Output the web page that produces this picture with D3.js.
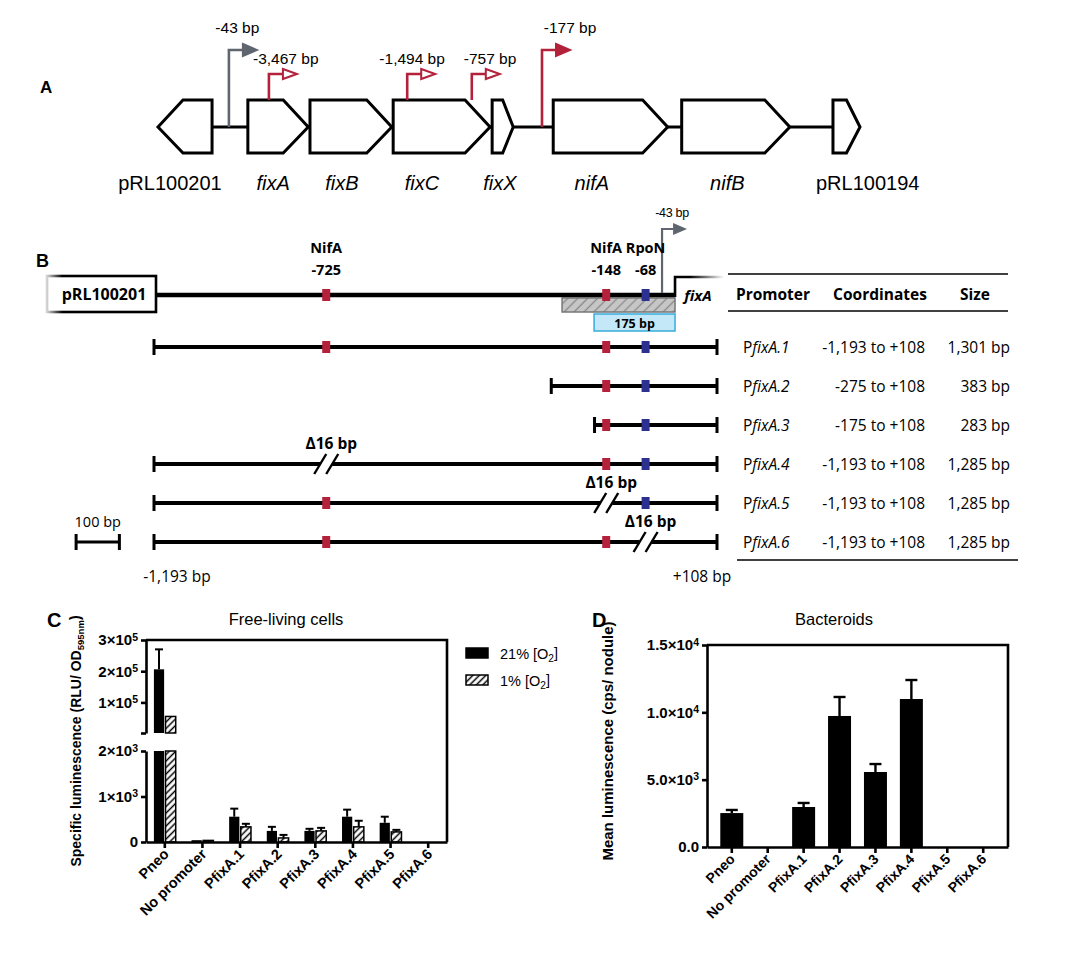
<!DOCTYPE html>
<html>
<head>
<meta charset="utf-8">
<script src="https://cdn.jsdelivr.net/npm/d3@7"></script>
<style>
  body { margin: 0; background: #fff; }
  svg { display: block; }
</style>
</head>
<body>
<div id="chart"></div>
<script>
// ---------- panel A : operon map (map units 0..100)
const geneNames = ['pRL100201', 'fixA', 'fixB', 'fixC', 'fixX', 'nifA', 'nifB', 'pRL100194'];
const geneStart = [0, 12.8, 21.65, 33.5, 47.6, 56.3, 74.6, 96.15];
const geneEnd = [7.7, 21.4, 33.3, 47.3, 50.6, 72.6, 90.0, 100];
const geneStrand = [-1, 1, 1, 1, 1, 1, 1, 1];
const geneItalic = [false, true, true, true, true, true, true, false];
const geneLabelPos = [1.7, 16.4, 26.2, 37.6, 48.7, 61.8, 81.1, 101.1];

const promoterLabels = ['-43 bp', '-3,467 bp', '-1,494 bp', '-757 bp', '-177 bp'];
const promoterPos = [10.1, 15.8, 35.5, 44.7, 54.7];
const promoterLabelPos = [11.3, 18.2, 36.2, 47.3, 58.7];
const promoterTall = [true, false, false, false, true];
const promoterGrey = [true, false, false, false, false];

// ---------- panel B : promoter constructs (bp)
const bpMin = -1193;
const bpMax = 108;
const siteNames = ['NifA', 'NifA', 'RpoN'];
const siteLabels = ['-725', '-148', '-68'];
const sitePos = [-795, -148, -57]; // drawn positions on the map
const siteBlue = [false, false, true];
const tssPos = -19;
const fixAPos = 11;
const hatchFrom = -250;
const boxFrom = -176;

const constructs = ['PfixA.1', 'PfixA.2', 'PfixA.3', 'PfixA.4', 'PfixA.5', 'PfixA.6'];
const constructStart = [-1193, -275, -175, -1193, -1193, -1193];
const constructDeleted = [null, null, null, 0, 1, 2];
const coordText = ['-1,193 to +108', '-275 to +108', '-175 to +108', '-1,193 to +108', '-1,193 to +108', '-1,193 to +108'];
const sizeText = ['1,301 bp', '383 bp', '283 bp', '1,285 bp', '1,285 bp', '1,285 bp'];

// ---------- panels C / D : luminescence
const categories = ['Pneo', 'No promoter', 'PfixA.1', 'PfixA.2', 'PfixA.3', 'PfixA.4', 'PfixA.5', 'PfixA.6'];
const freeAir = [206000, 40, 556, 244, 244, 556, 422, 0];
const freeAirSem = [64000, 0, 177, 89, 46, 155, 134, 0];
const freeLow = [55000, 35, 333, 89, 244, 333, 222, 0];
const freeLowSem = [0, 0, 67, 67, 67, 134, 45, 0];
const bacteroid = [2520, 0, 2970, 9730, 5570, 10990, 0, 0];
const bacteroidSem = [230, 0, 300, 1410, 590, 1410, 0, 0];

const red = '#b3213b';
const blue = '#2c3190';
const grey = '#5f6670';
const sans = 'Liberation Sans, Arial, Helvetica, sans-serif';
const opensans = 'Open Sans, Noto Sans, sans-serif';

const svg = d3.select('#chart').append('svg')
  .attr('width', 1080).attr('height', 960)
  .attr('font-family', sans);

const defs = svg.append('defs');
const hatch = defs.append('pattern').attr('id', 'hatch')
  .attr('patternUnits', 'userSpaceOnUse').attr('width', 4.6).attr('height', 4.6)
  .attr('patternTransform', 'rotate(45)');
hatch.append('rect').attr('width', 4.6).attr('height', 4.6).attr('fill', '#fff');
hatch.append('line').attr('x1', 2.3).attr('x2', 2.3).attr('y1', 0).attr('y2', 4.6)
  .attr('stroke', '#000').attr('stroke-width', 1.5);

const hatchGrey = defs.append('pattern').attr('id', 'hatchGrey')
  .attr('patternUnits', 'userSpaceOnUse').attr('width', 7).attr('height', 7)
  .attr('patternTransform', 'rotate(45)');
hatchGrey.append('rect').attr('width', 7).attr('height', 7).attr('fill', '#c6c6c6');
hatchGrey.append('line').attr('x1', 3.5).attr('x2', 3.5).attr('y1', 0).attr('y2', 7)
  .attr('stroke', '#8a8a8a').attr('stroke-width', 1.3);

const fadeL = defs.append('linearGradient').attr('id', 'fadeL');
fadeL.append('stop').attr('offset', 0).attr('stop-color', '#d5d5d5');
fadeL.append('stop').attr('offset', 0.14).attr('stop-color', '#000');
const fadeR = defs.append('linearGradient').attr('id', 'fadeR');
fadeR.append('stop').attr('offset', 0.3).attr('stop-color', '#000');
fadeR.append('stop').attr('offset', 1).attr('stop-color', '#fff');

// =================== A ===================
const gA = svg.append('g');
const xA = d3.scaleLinear([0, 100], [158, 860]);
const aTop = 100, aMid = 127, aBot = 153;

gA.append('text').attr('x', 40).attr('y', 93).attr('font-size', 17).attr('font-weight', 'bold').text('A');

gA.append('line')
  .attr('x1', xA(geneEnd[0])).attr('x2', xA(geneStart[geneStart.length - 1]))
  .attr('y1', aMid).attr('y2', aMid)
  .attr('stroke', '#000').attr('stroke-width', 3);

gA.selectAll('path.gene')
  .data(d3.range(geneNames.length))
  .join('path')
  .attr('class', 'gene')
  .attr('d', i => {
    const s = xA(geneStart[i]);
    const e = xA(geneEnd[i]);
    const head = Math.min(25, (e - s) * 0.5);
    if (geneStrand[i] > 0) {
      return `M${s},${aTop}H${e - head}L${e},${aMid}L${e - head},${aBot}H${s}Z`;
    }
    return `M${s},${aMid}L${s + head},${aTop}H${e}V${aBot}H${s + head}Z`;
  })
  .attr('fill', '#fff').attr('stroke', '#000').attr('stroke-width', 3)
  .attr('stroke-linejoin', 'miter');

gA.selectAll('text.gene')
  .data(d3.range(geneNames.length))
  .join('text')
  .attr('class', 'gene')
  .attr('x', i => xA(geneLabelPos[i])).attr('y', 190)
  .attr('text-anchor', 'middle').attr('font-size', 20)
  .attr('font-style', i => (geneItalic[i] ? 'italic' : 'normal'))
  .text(i => geneNames[i]);

// promoter arrows
promoterLabels.forEach((lab, i) => {
  const x = xA(promoterPos[i]);
  const col = promoterGrey[i] ? grey : red;
  const base = promoterTall[i] ? aMid : aTop;
  const top = promoterTall[i] ? 50 : 74;
  const hw = promoterTall[i] ? 6 : 5;
  gA.append('path')
    .attr('d', `M${x},${base}V${top}H${x + 14}`)
    .attr('fill', 'none').attr('stroke', col).attr('stroke-width', 2.6);
  gA.append('path')
    .attr('d', `M${x + 14},${top - hw}L${x + 28},${top}L${x + 14},${top + hw}Z`)
    .attr('fill', promoterTall[i] ? col : '#fff')
    .attr('stroke', col).attr('stroke-width', 2).attr('stroke-linejoin', 'miter');
  gA.append('text')
    .attr('x', xA(promoterLabelPos[i])).attr('y', promoterTall[i] ? 33 : 64)
    .attr('text-anchor', 'middle').attr('font-size', 15.5)
    .text(lab);
});

// =================== B ===================
const gB = svg.append('g').attr('font-family', opensans);
const xB = d3.scaleLinear([bpMin, bpMax], [154, 717]);
const yB = d3.scalePoint().domain(constructs).range([347, 542]);
const genomeY = 295;

gB.append('text').attr('x', 36).attr('y', 267).attr('font-family', sans)
  .attr('font-size', 18).attr('font-weight', 'bold').text('B');

// pRL100201 box
gB.append('rect').attr('x', 47).attr('y', 276).attr('width', 109).attr('height', 36)
  .attr('fill', '#fff').attr('stroke', 'url(#fadeL)').attr('stroke-width', 2.6);
gB.append('text').attr('x', 104).attr('y', 300).attr('text-anchor', 'middle')
  .attr('font-size', 16).attr('font-weight', 'bold').text('pRL100201');

// hatched 175 bp region
gB.append('rect')
  .attr('x', xB(hatchFrom)).attr('y', 298)
  .attr('width', xB(fixAPos) - xB(hatchFrom)).attr('height', 14)
  .attr('fill', 'url(#hatchGrey)').attr('stroke', '#777').attr('stroke-width', 1.5);

gB.append('line').attr('x1', 156).attr('x2', xB(fixAPos))
  .attr('y1', genomeY).attr('y2', genomeY)
  .attr('stroke', '#000').attr('stroke-width', 4.5);

gB.append('rect')
  .attr('x', xB(boxFrom)).attr('y', 314)
  .attr('width', xB(fixAPos) - xB(boxFrom)).attr('height', 17)
  .attr('fill', '#c4e8f7').attr('stroke', '#41b0de').attr('stroke-width', 1.6);
gB.append('text').attr('x', (xB(boxFrom) + xB(fixAPos)) / 2).attr('y', 327.5)
  .attr('text-anchor', 'middle').attr('font-size', 12.5).attr('font-weight', 'bold').text('175 bp');

// fixA box
gB.append('path').attr('d', `M${xB(fixAPos)},${genomeY + 2}V277H724`)
  .attr('fill', 'none').attr('stroke', 'url(#fadeR)').attr('stroke-width', 2.6);
gB.append('text').attr('x', 698).attr('y', 301).attr('text-anchor', 'middle')
  .attr('font-size', 15).attr('font-weight', 'bold').attr('font-style', 'italic').text('fixA');

// TSS arrow
const xT = xB(tssPos);
gB.append('path').attr('d', `M${xT},${genomeY - 2}V229H${xT + 11}`)
  .attr('fill', 'none').attr('stroke', grey).attr('stroke-width', 2.2);
gB.append('path').attr('d', `M${xT + 11},${223}L${xT + 25},229L${xT + 11},235Z`).attr('fill', grey);
gB.append('text').attr('x', xT + 10).attr('y', 217).attr('text-anchor', 'middle')
  .attr('font-family', sans).attr('font-size', 12.5).attr('letter-spacing', -0.3).text('-43 bp');

function siteMark(g, i, y) {
  g.append('rect')
    .attr('x', xB(sitePos[i]) - 4).attr('y', y - 6)
    .attr('width', 8).attr('height', 12)
    .attr('fill', siteBlue[i] ? blue : red);
}

sitePos.forEach((p, i) => {
  siteMark(gB, i, genomeY);
  gB.append('text').attr('x', xB(p)).attr('y', 253).attr('text-anchor', 'middle')
    .attr('font-size', 14.5).attr('font-weight', 'bold').text(siteNames[i]);
  gB.append('text').attr('x', xB(p)).attr('y', 275).attr('text-anchor', 'middle')
    .attr('font-size', 14.5).attr('font-weight', 'bold').text(siteLabels[i]);
});

// constructs
function drawBreak(g, x, y) {
  g.append('rect').attr('x', x - 6).attr('y', y - 4).attr('width', 12).attr('height', 8).attr('fill', '#fff');
  [-6, 6].forEach(dx => {
    g.append('line')
      .attr('x1', x + dx - 6).attr('y1', y + 10)
      .attr('x2', x + dx + 6).attr('y2', y - 10)
      .attr('stroke', '#000').attr('stroke-width', 2.4);
  });
  g.append('text').attr('x', x + 5).attr('y', y - 15).attr('text-anchor', 'middle')
    .attr('font-size', 15.5).attr('font-weight', 'bold').text('\u039416 bp');
}

constructs.forEach((c, r) => {
  const y = yB(c);
  const x1 = xB(constructStart[r]);
  const x2 = xB(bpMax);
  const g = gB.append('g');
  g.append('line').attr('x1', x1).attr('x2', x2).attr('y1', y).attr('y2', y)
    .attr('stroke', '#000').attr('stroke-width', 4);
  [x1, x2].forEach(x => {
    g.append('line').attr('x1', x).attr('x2', x).attr('y1', y - 8).attr('y2', y + 8)
      .attr('stroke', '#000').attr('stroke-width', 3);
  });
  sitePos.forEach((p, i) => {
    if (p < constructStart[r]) return;
    if (constructDeleted[r] === i) {
      drawBreak(g, xB(p), y);
    } else {
      siteMark(g, i, y);
    }
  });
});

// scale bar & end labels
const sb = [-1373, -1273];
const ySB = yB(constructs[5]);
gB.append('line').attr('x1', xB(sb[0])).attr('x2', xB(sb[1])).attr('y1', ySB).attr('y2', ySB)
  .attr('stroke', '#000').attr('stroke-width', 3);
sb.forEach(v => {
  gB.append('line').attr('x1', xB(v)).attr('x2', xB(v)).attr('y1', ySB - 8).attr('y2', ySB + 8)
    .attr('stroke', '#000').attr('stroke-width', 3);
});
gB.append('text').attr('x', (xB(sb[0]) + xB(sb[1])) / 2).attr('y', 527).attr('text-anchor', 'middle')
  .attr('font-size', 14.5).text('100 bp');
gB.append('text').attr('x', xB(bpMin) + 23).attr('y', 582).attr('text-anchor', 'middle')
  .attr('font-size', 15.5).text('-1,193 bp');
gB.append('text').attr('x', xB(bpMax) - 15).attr('y', 582).attr('text-anchor', 'middle')
  .attr('font-size', 15.5).text('+108 bp');

// table
const gT = gB.append('g');
[[728, 1008, 274], [728, 1008, 311], [737, 1018, 560]].forEach(([a, b, y]) => {
  gT.append('line').attr('x1', a).attr('x2', b).attr('y1', y).attr('y2', y)
    .attr('stroke', '#000').attr('stroke-width', 1.5);
});
[['Promoter', 773], ['Coordinates', 880], ['Size', 975]].forEach(([t, x]) => {
  gT.append('text').attr('x', x).attr('y', 300).attr('text-anchor', 'middle')
    .attr('font-size', 15.5).attr('font-weight', 'bold').text(t);
});
constructs.forEach((c, r) => {
  const y = yB(c) + 6;
  const t = gT.append('text').attr('x', 743).attr('y', y).attr('font-size', 15.5);
  t.append('tspan').text('P');
  t.append('tspan').attr('font-style', 'italic').text(c.slice(1));
  gT.append('text').attr('x', 925).attr('y', y).attr('text-anchor', 'end')
    .attr('font-size', 15.5).text(coordText[r]);
  gT.append('text').attr('x', 1010).attr('y', y).attr('text-anchor', 'end')
    .attr('font-size', 15.5).text(sizeText[r]);
});

// =================== helpers for C / D ===================
function sciLabel(sel, v, dec) {
  sel.text(null);
  if (v === 0) {
    sel.text(dec ? (0).toFixed(dec) : '0');
    return;
  }
  const exp = Math.floor(Math.log10(v) + 1e-9);
  const m = v / 10 ** exp;
  sel.append('tspan').text(`${m.toFixed(dec)}\u00d710`);
  sel.append('tspan').attr('dy', '-0.45em').attr('font-size', '0.7em').text(exp);
}

function styleAxis(g, size) {
  g.attr('font-family', sans).attr('font-size', size).attr('font-weight', 'bold');
  g.selectAll('path, line').attr('stroke', '#000').attr('stroke-width', 2.6);
  g.selectAll('text').attr('fill', '#000');
}

function rotateLabels(g, dx, dy) {
  g.selectAll('.tick text')
    .attr('y', null).attr('dy', null)
    .attr('text-anchor', 'end')
    .attr('transform', `translate(${dx},${dy}) rotate(-45)`);
}

// =================== C ===================
const gC = svg.append('g');
const cL = 146, cR = 447, cTop = 640, cHiBot = 733, cLoTop = 751, cBot = 842;
const x0C = d3.scaleBand().domain(categories).range([cL, cR]).paddingInner(0.42).paddingOuter(0.21);
const x1C = d3.scaleBand().domain(['21%', '1%']).range([0, x0C.bandwidth()]).paddingInner(0.12);
const yHi = d3.scaleLinear([2000, 300000], [cHiBot, cTop]);
const yLo = d3.scaleLinear([0, 2000], [cBot, cLoTop]);
const cap = 2000;

gC.append('text').attr('x', 47).attr('y', 627).attr('font-size', 20).attr('font-weight', 'bold').text('C');
gC.append('text').attr('x', 286).attr('y', 625).attr('text-anchor', 'middle').attr('font-size', 16.5)
  .text('Free-living cells');

const seriesC = [
  { key: '21%', values: freeAir, sem: freeAirSem, fill: '#000', stroke: 'none' },
  { key: '1%', values: freeLow, sem: freeLowSem, fill: 'url(#hatch)', stroke: '#000' }
];

seriesC.forEach(s => {
  const segs = [];
  const errs = [];
  categories.forEach((c, i) => {
    const v = s.values[i];
    if (v <= 0) return;
    const x = x0C(c) + x1C(s.key);
    segs.push({ x, y0: yLo(Math.min(v, cap)), y1: cBot });
    if (v > cap) segs.push({ x, y0: yHi(v), y1: cHiBot });
    if (s.sem[i] > 0) {
      const y = v > cap ? yHi(v) : yLo(v);
      const ye = v > cap ? yHi(v + s.sem[i]) : yLo(v + s.sem[i]);
      errs.push({ cx: x + x1C.bandwidth() / 2, y, ye });
    }
  });
  gC.append('g').selectAll('line.err').data(errs).join('line')
    .attr('x1', d => d.cx).attr('x2', d => d.cx).attr('y1', d => d.y).attr('y2', d => d.ye)
    .attr('stroke', '#000').attr('stroke-width', 2);
  gC.append('g').selectAll('line.cap').data(errs).join('line')
    .attr('x1', d => d.cx - 4).attr('x2', d => d.cx + 4).attr('y1', d => d.ye).attr('y2', d => d.ye)
    .attr('stroke', '#000').attr('stroke-width', 2);
  gC.append('g').selectAll('rect').data(segs).join('rect')
    .attr('x', d => d.x).attr('y', d => d.y0)
    .attr('width', x1C.bandwidth()).attr('height', d => d.y1 - d.y0)
    .attr('fill', s.fill).attr('stroke', s.stroke).attr('stroke-width', 1.5);
});

// frame
gC.append('path').attr('d', `M${cL},${cTop}H${cR}V${cBot}`)
  .attr('fill', 'none').attr('stroke', '#000').attr('stroke-width', 2.6);

const axHi = gC.append('g').attr('transform', `translate(${cL},0)`)
  .call(d3.axisLeft(yHi).tickValues([2000, 100000, 200000, 300000]).tickSize(5).tickSizeOuter(0));
const axLo = gC.append('g').attr('transform', `translate(${cL},0)`)
  .call(d3.axisLeft(yLo).tickValues([0, 1000, 2000]).tickSize(5).tickSizeOuter(0));
[axHi, axLo].forEach(ax => {
  styleAxis(ax, 15);
  ax.selectAll('.tick text').each(function (d) {
    if (d === 2000 && ax === axHi) d3.select(this).text('');
    else sciLabel(d3.select(this), d, 0);
  });
});
const axCx = gC.append('g').attr('transform', `translate(0,${cBot})`)
  .call(d3.axisBottom(x0C).tickSize(6).tickSizeOuter(0));
styleAxis(axCx, 14.5);
rotateLabels(axCx, 5, 13);

gC.append('text')
  .attr('transform', `translate(81,${741}) rotate(-90)`)
  .attr('text-anchor', 'middle').attr('font-size', 14).attr('font-weight', 'bold')
  .call(t => {
    t.append('tspan').text('Specific luminescence (RLU/ OD');
    t.append('tspan').attr('dy', '0.3em').attr('font-size', '0.68em').text('595nm');
    t.append('tspan').attr('dy', '-0.3em').text(')');
  });

// legend
const legC = gC.append('g');
seriesC.forEach((s, i) => {
  const y = 648 + i * 27;
  legC.append('rect').attr('x', 466).attr('y', y).attr('width', 22).attr('height', 10)
    .attr('fill', s.fill).attr('stroke', s.stroke === 'none' ? '#000' : s.stroke).attr('stroke-width', 1.5);
  const t = legC.append('text').attr('x', 500).attr('y', y + 11).attr('font-size', 14.5);
  t.append('tspan').text(`${s.key} [O`);
  t.append('tspan').attr('dy', '0.3em').attr('font-size', '0.7em').text('2');
  t.append('tspan').attr('dy', '-0.3em').text(']');
});

// =================== D ===================
const gD = svg.append('g');
const dL = 707, dR = 1008, dTop = 645, dBot = 847;
const x0D = d3.scaleBand().domain(categories).range([dL, dR]).paddingInner(0.36).paddingOuter(0.37);
const yD = d3.scaleLinear([0, 15000], [dBot, dTop]);

gD.append('text').attr('x', 592).attr('y', 627).attr('font-size', 20).attr('font-weight', 'bold').text('D');
gD.append('text').attr('x', 834).attr('y', 625).attr('text-anchor', 'middle').attr('font-size', 16.5)
  .text('Bacteroids');

const dRows = categories.map((c, i) => ({ c, v: bacteroid[i], sem: bacteroidSem[i] }));
gD.append('g').selectAll('line.err').data(dRows.filter(d => d.sem > 0)).join('line')
  .attr('x1', d => x0D(d.c) + x0D.bandwidth() / 2).attr('x2', d => x0D(d.c) + x0D.bandwidth() / 2)
  .attr('y1', d => yD(d.v)).attr('y2', d => yD(d.v + d.sem))
  .attr('stroke', '#000').attr('stroke-width', 2.4);
gD.append('g').selectAll('line.cap').data(dRows.filter(d => d.sem > 0)).join('line')
  .attr('x1', d => x0D(d.c) + x0D.bandwidth() / 2 - 6).attr('x2', d => x0D(d.c) + x0D.bandwidth() / 2 + 6)
  .attr('y1', d => yD(d.v + d.sem)).attr('y2', d => yD(d.v + d.sem))
  .attr('stroke', '#000').attr('stroke-width', 2.4);
gD.append('g').selectAll('rect').data(dRows.filter(d => d.v > 0)).join('rect')
  .attr('x', d => x0D(d.c)).attr('y', d => yD(d.v))
  .attr('width', x0D.bandwidth()).attr('height', d => dBot - yD(d.v))
  .attr('fill', '#000');

gD.append('path').attr('d', `M${dL},${dTop}H${dR}V${dBot}`)
  .attr('fill', 'none').attr('stroke', '#000').attr('stroke-width', 2.6);

const axDy = gD.append('g').attr('transform', `translate(${dL},0)`)
  .call(d3.axisLeft(yD).tickValues([0, 5000, 10000, 15000]).tickSize(5).tickSizeOuter(0));
styleAxis(axDy, 15);
axDy.selectAll('.tick text').each(function (d) { sciLabel(d3.select(this), d, 1); });

const axDx = gD.append('g').attr('transform', `translate(0,${dBot})`)
  .call(d3.axisBottom(x0D).tickSize(6).tickSizeOuter(0));
styleAxis(axDx, 14);
rotateLabels(axDx, 4, 13);

gD.append('text')
  .attr('transform', `translate(613,${741}) rotate(-90)`)
  .attr('text-anchor', 'middle').attr('font-size', 15).attr('font-weight', 'bold')
  .text('Mean luminescence (cps/ nodule)');
</script>
</body>
</html>
